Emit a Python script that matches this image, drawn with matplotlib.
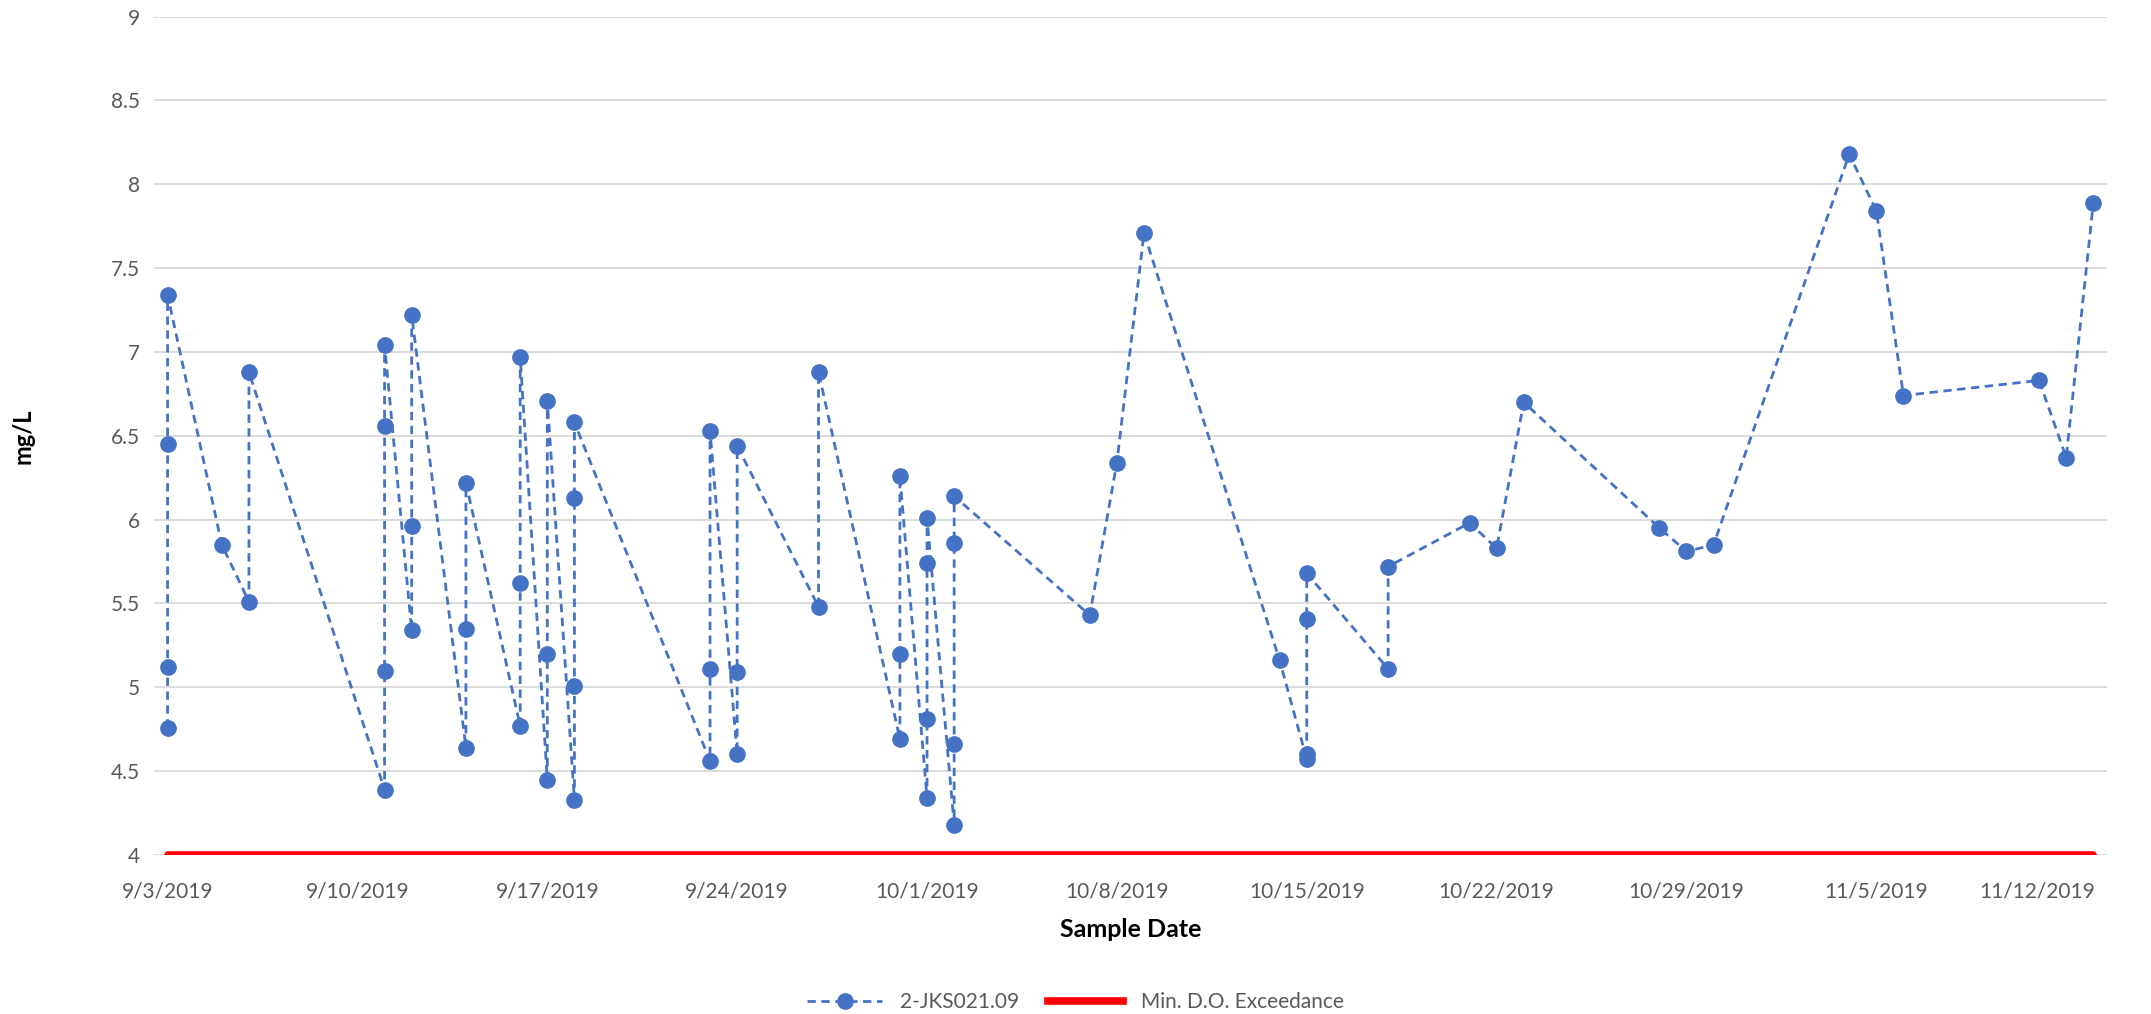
import matplotlib
matplotlib.use("Agg")
import matplotlib.pyplot as plt
from matplotlib.transforms import ScaledTranslation
from matplotlib.lines import Line2D
import pandas as pd

# ---- data ----
sample_dates = [
    "2019-09-03", "2019-09-03", "2019-09-03", "2019-09-03",
    "2019-09-05",
    "2019-09-06", "2019-09-06",
    "2019-09-11", "2019-09-11", "2019-09-11", "2019-09-11",
    "2019-09-12", "2019-09-12", "2019-09-12",
    "2019-09-14", "2019-09-14", "2019-09-14",
    "2019-09-16", "2019-09-16", "2019-09-16",
    "2019-09-17", "2019-09-17", "2019-09-17",
    "2019-09-18", "2019-09-18", "2019-09-18", "2019-09-18",
    "2019-09-23", "2019-09-23", "2019-09-23",
    "2019-09-24", "2019-09-24", "2019-09-24",
    "2019-09-27", "2019-09-27",
    "2019-09-30", "2019-09-30", "2019-09-30",
    "2019-10-01", "2019-10-01", "2019-10-01", "2019-10-01",
    "2019-10-02", "2019-10-02", "2019-10-02", "2019-10-02",
    "2019-10-07", "2019-10-08", "2019-10-09",
    "2019-10-14",
    "2019-10-15", "2019-10-15", "2019-10-15", "2019-10-15",
    "2019-10-18", "2019-10-18",
    "2019-10-21", "2019-10-22", "2019-10-23",
    "2019-10-28", "2019-10-29", "2019-10-30",
    "2019-11-04", "2019-11-05", "2019-11-06",
    "2019-11-11", "2019-11-12", "2019-11-13",
]
do_values = [
    4.76, 5.12, 6.45, 7.34,
    5.85,
    5.51, 6.88,
    4.39, 5.10, 6.56, 7.04,
    5.34, 5.96, 7.22,
    4.64, 5.35, 6.22,
    4.77, 5.62, 6.97,
    4.45, 5.20, 6.71,
    4.33, 5.01, 6.13, 6.58,
    4.56, 5.11, 6.53,
    4.60, 5.09, 6.44,
    5.48, 6.88,
    4.69, 5.20, 6.26,
    4.34, 4.81, 5.74, 6.01,
    4.18, 4.66, 5.86, 6.14,
    5.43, 6.34, 7.71,
    5.16,
    4.57, 4.60, 5.41, 5.68,
    5.11, 5.72,
    5.98, 5.83, 6.70,
    5.95, 5.81, 5.85,
    8.18, 7.84, 6.74,
    6.83, 6.37, 7.89,
]
min_do_limit = 4.0
series_name = "2-JKS021.09"
limit_name = "Min. D.O. Exceedance"
tick_dates = ["2019-09-03", "2019-09-10", "2019-09-17", "2019-09-24", "2019-10-01",
              "2019-10-08", "2019-10-15", "2019-10-22", "2019-10-29", "2019-11-05",
              "2019-11-12"]
tick_labels = ["9/3/2019", "9/10/2019", "9/17/2019", "9/24/2019", "10/1/2019",
               "10/8/2019", "10/15/2019", "10/22/2019", "10/29/2019", "11/5/2019",
               "11/12/2019"]
y_ticks = [4, 4.5, 5, 5.5, 6, 6.5, 7, 7.5, 8, 8.5, 9]
y_tick_labels = ["4", "4.5", "5", "5.5", "6", "6.5", "7", "7.5", "8", "8.5", "9"]

# ---- style ----
plt.rcParams['font.family'] = ['Lato', 'DejaVu Sans']
BLUE = "#4472C4"
RED = "#FF0000"
GRAY = "#595959"
GRID = "#D9D9D9"

dates = pd.to_datetime(sample_dates)
unique_dates = pd.to_datetime(sorted(set(sample_dates)))
limit_values = [min_do_limit] * len(unique_dates)

fig = plt.figure(figsize=(21.51, 10.14), dpi=100)
ax = fig.add_axes([0.0716, 0.1568, 0.9795 - 0.0716, 0.9837 - 0.1568])

ax.plot(unique_dates, limit_values, color=RED, lw=5.5, solid_capstyle='round', zorder=3)
ax.plot(dates, do_values, color=BLUE, lw=2, linestyle=(0, (3, 2)),
        marker='o', markersize=11, markerfacecolor=BLUE, markeredgecolor=BLUE, zorder=4)

half = pd.Timedelta(hours=12)
ax.set_xlim(unique_dates.min() - half, unique_dates.max() + half)
ax.set_ylim(4, 9)

ax.set_yticks(y_ticks)
ax.set_yticklabels(y_tick_labels)
ax.set_xticks(pd.to_datetime(tick_dates))
ax.set_xticklabels(tick_labels)
ax.tick_params(axis='both', length=0, labelsize=15, labelcolor=GRAY)
ax.tick_params(axis='x', pad=19)
ax.tick_params(axis='y', pad=10)

ax.grid(axis='y', color=GRID, lw=1.3, zorder=0)
ax.set_axisbelow(True)
for s in ax.spines.values():
    s.set_visible(False)

# last label shifted to fit inside the chart, as in the original
last = ax.xaxis.get_major_ticks()[-1].label1
last.set_horizontalalignment('right')
last.set_transform(last.get_transform() + ScaledTranslation(0.29, 0, fig.dpi_scale_trans))

ax.set_xlabel("Sample Date", fontsize=18, fontweight='bold', color='black', labelpad=12)
ax.set_ylabel("mg/L", fontsize=17, fontweight='bold', color='black', labelpad=55)

handles = [
    Line2D([], [], color=BLUE, lw=2, linestyle=(0, (3, 2)), marker='o', markersize=11),
    Line2D([], [], color=RED, lw=5.5),
]
fig.legend(handles, [series_name, limit_name], loc='center', bbox_to_anchor=(0.5, 0.012),
           ncol=2, frameon=False, fontsize=15, labelcolor=GRAY, handlelength=3.6,
           handletextpad=0.85, columnspacing=1.4)

fig.savefig("out.png", dpi=100)
